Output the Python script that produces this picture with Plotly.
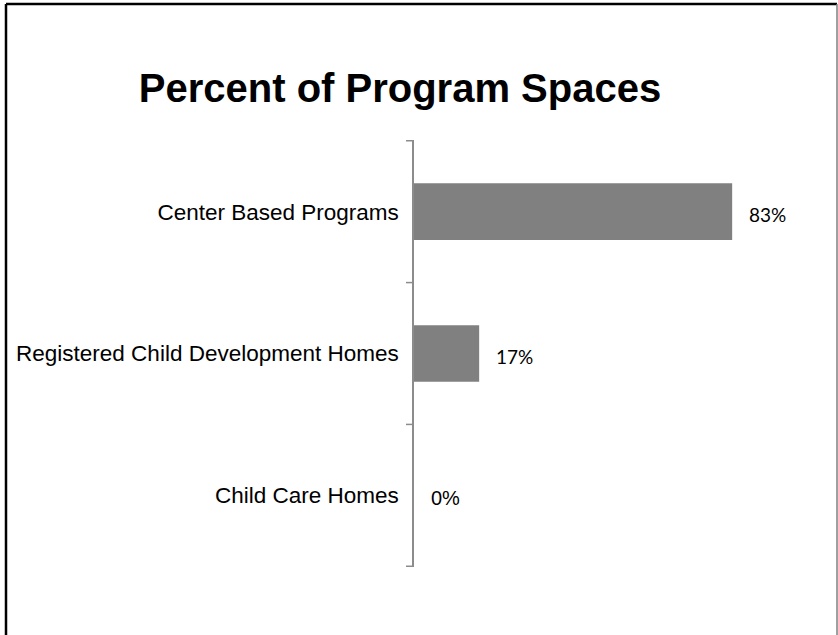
import plotly.graph_objects as go

# Share of program spaces by program type
categories = ["Center Based Programs", "Registered Child Development Homes", "Child Care Homes"]
shares = [0.83, 0.17, 0.0]
label_fonts = ["Lato", "Lato", "Liberation Sans"]
label_sizes = [19, 19, 20]

W, H = 838, 635
L, R, T, B = 414, 79, 140, 68
pw = W - L - R
ph = H - T - B

fig = go.Figure(
    go.Bar(
        y=categories,
        x=shares,
        orientation="h",
        marker=dict(color="#808080", line=dict(width=0)),
        width=0.4,
        hoverinfo="skip",
    )
)

# Value labels placed just to the right of each bar end
for cat, v, fam, size in zip(categories, shares, label_fonts, label_sizes):
    fig.add_annotation(
        x=v, y=cat, xref="x", yref="y",
        text=f"{v:.0%}",
        showarrow=False,
        xanchor="left", yanchor="middle",
        xshift=15, yshift=-3,
        font=dict(family=fam, size=size, color="#000000"),
    )

font_main = "Liberation Sans, Arial, sans-serif"


def px_to_paper_x(px):
    return (px - L) / pw


def px_to_paper_y(py):
    return 1 - (py - T) / ph


# Outer frame of the chart area
frame_left, frame_top, frame_right, frame_bottom = 6, 4, 837, 660
fig.add_shape(type="line", xref="paper", yref="paper",
              x0=px_to_paper_x(frame_left), x1=px_to_paper_x(frame_left),
              y0=px_to_paper_y(frame_top), y1=px_to_paper_y(frame_bottom),
              line=dict(color="#000000", width=2.5))
fig.add_shape(type="line", xref="paper", yref="paper",
              x0=px_to_paper_x(frame_left), x1=px_to_paper_x(frame_right),
              y0=px_to_paper_y(frame_top), y1=px_to_paper_y(frame_top),
              line=dict(color="#000000", width=2.5))
fig.add_shape(type="line", xref="paper", yref="paper",
              x0=px_to_paper_x(frame_right), x1=px_to_paper_x(frame_right),
              y0=px_to_paper_y(frame_top), y1=px_to_paper_y(frame_bottom),
              line=dict(color="#808080", width=1.5))

fig.update_layout(
    width=W,
    height=H,
    margin=dict(l=L, r=R, t=T, b=B, autoexpand=False),
    paper_bgcolor="#ffffff",
    plot_bgcolor="#ffffff",
    showlegend=False,
    title=dict(
        text="<b>Percent of Program Spaces</b>",
        x=400 / W, xref="container", xanchor="center",
        y=1 - 88 / H, yref="container", yanchor="middle",
        font=dict(family=font_main, size=40, color="#000000"),
    ),
    xaxis=dict(
        range=[0, 0.9],
        visible=False,
        fixedrange=True,
    ),
    yaxis=dict(
        autorange="reversed",
        showline=True,
        linecolor="#8c8c8c",
        linewidth=1.5,
        showgrid=False,
        zeroline=False,
        ticks="",
        ticklabelstandoff=9,
        tickfont=dict(family=font_main, size=22.5, color="#000000"),
        fixedrange=True,
    ),
)

# Category boundary tick marks on the left of the axis
for i in range(len(categories) + 1):
    fig.add_shape(type="line", xref="paper", yref="y",
                  x0=px_to_paper_x(406), x1=px_to_paper_x(L - 1),
                  y0=i - 0.5, y1=i - 0.5,
                  line=dict(color="#8c8c8c", width=1.5))

fig.write_html("out.html")
